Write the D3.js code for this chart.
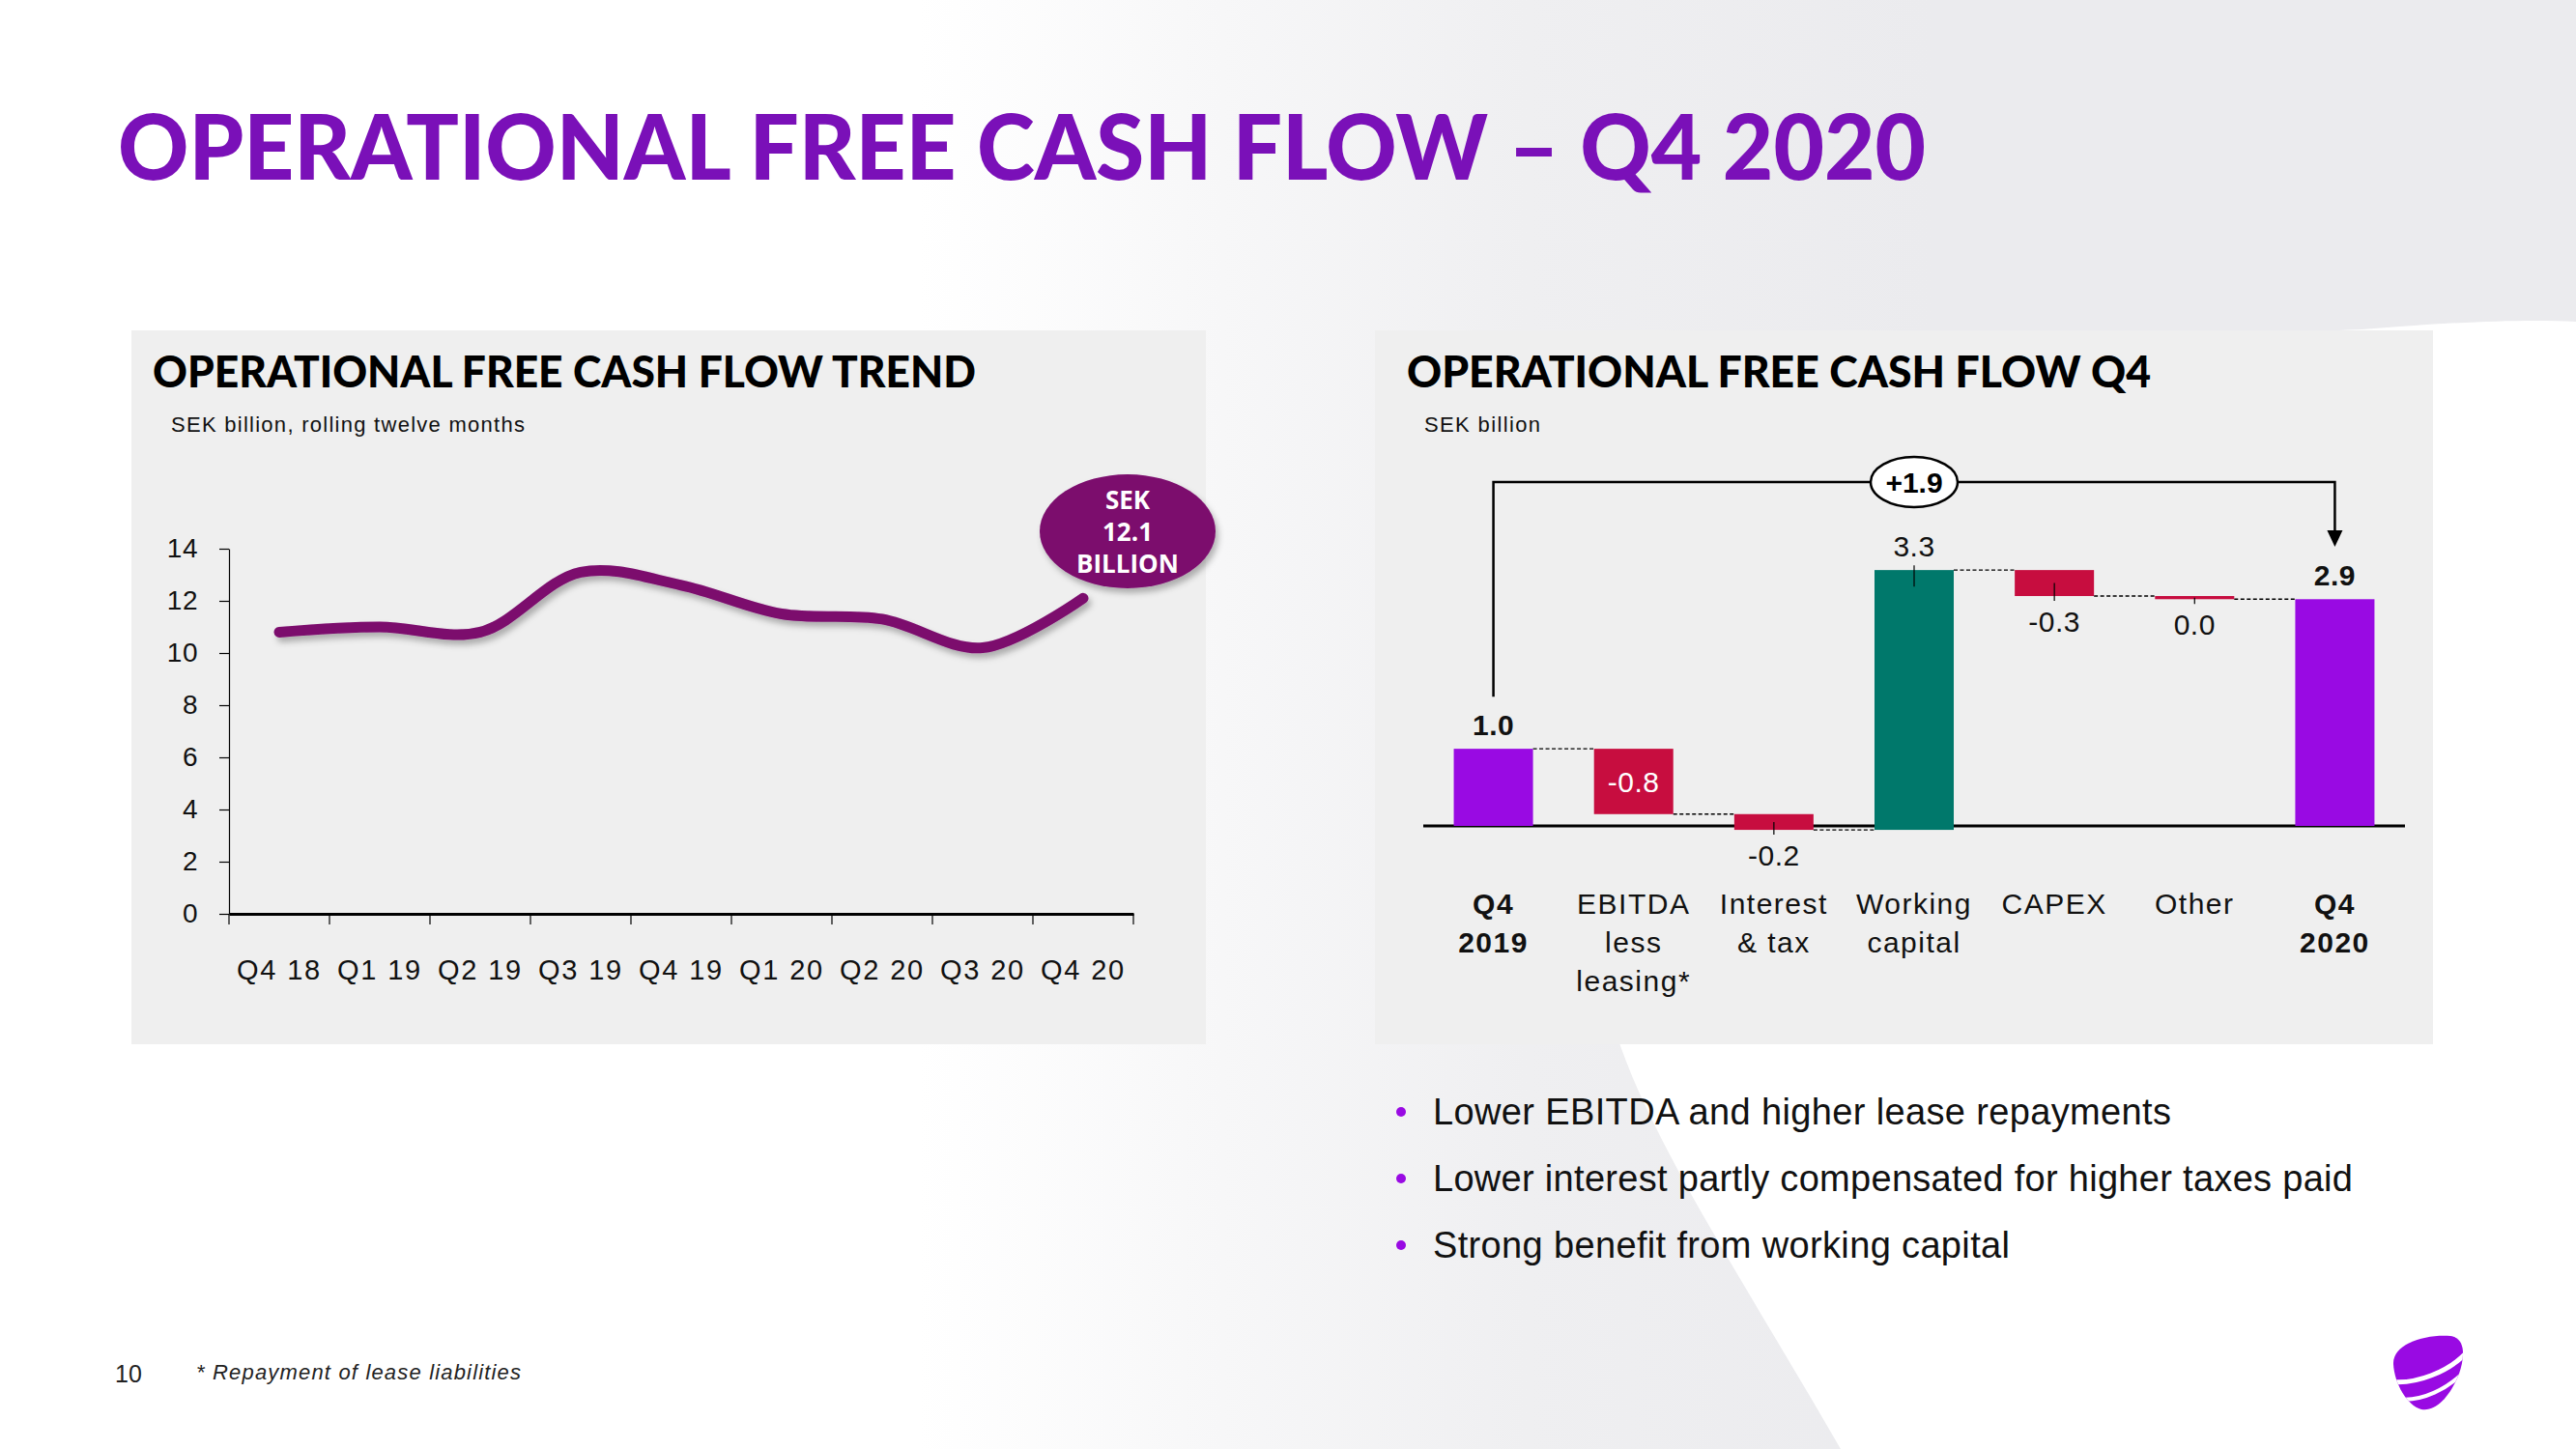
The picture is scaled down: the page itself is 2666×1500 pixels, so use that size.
<!DOCTYPE html>
<html>
<head>
<meta charset="utf-8">
<script src="https://cdn.jsdelivr.net/npm/d3@7"></script>
<style>
  html, body { margin: 0; padding: 0; background: #ffffff; overflow: hidden; }
  svg { display: block; }
  .body { font-family: "Liberation Sans", Arial, sans-serif; }
  .head { font-family: Lato, "Open Sans", Roboto, sans-serif; font-weight: 900; }
</style>
</head>
<body>
<svg id="slide" width="2666" height="1500"></svg>
<script>
// ---------------- DATA ----------------
const trendCategories = ["Q4 18", "Q1 19", "Q2 19", "Q3 19", "Q4 19", "Q1 20", "Q2 20", "Q3 20", "Q4 20"];
const trendValues = [10.8, 11.0, 10.8, 13.1, 12.6, 11.5, 11.3, 10.2, 12.1];
const trendYTicks = [0, 2, 4, 6, 8, 10, 12, 14];
const trendCallout = ["SEK", "12.1", "BILLION"];

const wfCategories = [["Q4", "2019"], ["EBITDA", "less", "leasing*"], ["Interest", "& tax"], ["Working", "capital"], ["CAPEX"], ["Other"], ["Q4", "2020"]];
const wfTypes = ["total", "delta", "delta", "delta", "delta", "delta", "total"];
const wfValues = [0.98, -0.83, -0.20, 3.30, -0.33, -0.04, null]; // last total = running sum
const wfChangeLabel = "+1.9";

const bullets = [
  "Lower EBITDA and higher lease repayments",
  "Lower interest partly compensated for higher taxes paid",
  "Strong benefit from working capital"
];
const slideTitle = "OPERATIONAL FREE CASH FLOW \u2013 Q4 2020";
const leftTitle = "OPERATIONAL FREE CASH FLOW TREND";
const leftSubtitle = "SEK billion, rolling twelve months";
const rightTitle = "OPERATIONAL FREE CASH FLOW Q4";
const rightSubtitle = "SEK billion";
const footnote = "* Repayment of lease liabilities";
const pageNumber = "10";

// ---------------- STYLE ----------------
const C = {
  title: "#7a10b8",
  panel: "#efefef",
  line: "#7b0a6d",
  total: "#990ae3",
  neg: "#c70d3f",
  pos: "#00786b",
  text: "#000000",
  bullet: "#990ae3"
};

const svg = d3.select("#slide");
const defs = svg.append("defs");

// background gradient
const grad = defs.append("linearGradient").attr("id", "bgGrad")
  .attr("gradientUnits", "userSpaceOnUse").attr("x1", 950).attr("y1", 0).attr("x2", 2000).attr("y2", 0);
grad.append("stop").attr("offset", 0).attr("stop-color", "#ffffff");
grad.append("stop").attr("offset", 0.6).attr("stop-color", "#efeff1");
grad.append("stop").attr("offset", 1).attr("stop-color", "#ebebee");

const shadow = defs.append("filter").attr("id", "shadow").attr("x", "-20%").attr("y", "-40%").attr("width", "140%").attr("height", "180%");
shadow.append("feDropShadow").attr("dx", 3).attr("dy", 5).attr("stdDeviation", 3)
  .attr("flood-color", "#000").attr("flood-opacity", 0.28);

svg.append("rect").attr("width", 2666).attr("height", 1500).attr("fill", "#ffffff");
svg.append("rect").attr("width", 2666).attr("height", 1500).attr("fill", "url(#bgGrad)");
// white swoosh on the lower right
svg.append("path")
  .attr("d", "M1905,1500 C1790,1300 1660,1110 1660,1000 L1700,600 C1900,380 2300,346 2445,341 C2530,334 2610,330 2666,333 L2666,1500 Z")
  .attr("fill", "#ffffff");

// ---------------- TITLE ----------------
svg.append("text").attr("class", "head")
  .attr("x", 122).attr("y", 186)
  .attr("font-size", 94).attr("fill", C.title)
  .attr("textLength", 1871).attr("lengthAdjust", "spacingAndGlyphs")
  .text(slideTitle);

// ---------------- PANELS ----------------
svg.append("rect").attr("x", 136).attr("y", 342).attr("width", 1112).attr("height", 739).attr("fill", C.panel);
svg.append("rect").attr("x", 1423).attr("y", 342).attr("width", 1095).attr("height", 739).attr("fill", C.panel);

svg.append("text").attr("class", "head").attr("x", 158).attr("y", 401)
  .attr("font-size", 46).attr("fill", C.text)
  .attr("textLength", 852).attr("lengthAdjust", "spacingAndGlyphs").text(leftTitle);
svg.append("text").attr("class", "head").attr("x", 1456).attr("y", 401)
  .attr("font-size", 46).attr("fill", C.text)
  .attr("textLength", 770).attr("lengthAdjust", "spacingAndGlyphs").text(rightTitle);

svg.append("text").attr("class", "body").attr("x", 177).attr("y", 447)
  .attr("font-size", 22).attr("fill", "#111")
  .attr("textLength", 366).attr("lengthAdjust", "spacing").text(leftSubtitle);
svg.append("text").attr("class", "body").attr("x", 1474).attr("y", 447)
  .attr("font-size", 22).attr("fill", "#111")
  .attr("textLength", 120).attr("lengthAdjust", "spacing").text(rightSubtitle);

// ---------------- LEFT: TREND LINE ----------------
const xL = d3.scaleBand().domain(trendCategories).range([237, 1173]);
const yL = d3.scaleLinear().domain([0, 14]).range([946, 568]);

const gyL = svg.append("g").attr("class", "body").attr("transform", "translate(237,0)")
  .call(d3.axisLeft(yL).tickValues(trendYTicks).tickSize(10).tickPadding(22).tickSizeOuter(0));
gyL.select(".domain").attr("stroke", "#000").attr("stroke-width", 1.2);
gyL.selectAll(".tick line").attr("stroke", "#000").attr("stroke-width", 1.2);
gyL.selectAll(".tick text").attr("font-size", 28).attr("fill", "#111")
  .attr("font-family", "Liberation Sans, Arial, sans-serif").attr("letter-spacing", 0.5);

// x axis
const gxL = svg.append("g").attr("class", "body").attr("transform", "translate(0,946)")
  .call(d3.axisBottom(xL).tickSize(0).tickPadding(68).tickSizeOuter(0));
gxL.select(".domain").attr("stroke", "#000").attr("stroke-width", 3);
gxL.selectAll(".tick text").attr("font-size", 29).attr("fill", "#111")
  .attr("font-family", "Liberation Sans, Arial, sans-serif").attr("letter-spacing", 1.8)
  .attr("dy", "0");
const boundaries = trendCategories.map(c => xL(c)).concat([xL.range()[1]]);
svg.append("g").selectAll("line").data(boundaries).join("line")
  .attr("x1", d => d).attr("x2", d => d).attr("y1", 946).attr("y2", 957)
  .attr("stroke", "#000").attr("stroke-width", 1.2);

const lineGen = d3.line()
  .x((d, i) => xL(trendCategories[i]) + xL.bandwidth() / 2)
  .y(d => yL(d))
  .curve(d3.curveCatmullRom.alpha(0.5));
svg.append("path").datum(trendValues)
  .attr("d", lineGen).attr("fill", "none")
  .attr("stroke", C.line).attr("stroke-width", 11).attr("stroke-linecap", "round")
  .attr("stroke-linejoin", "round").attr("filter", "url(#shadow)");

// callout bubble
svg.append("ellipse").attr("cx", 1167).attr("cy", 550).attr("rx", 91).attr("ry", 59)
  .attr("fill", C.line).attr("filter", "url(#shadow)");
svg.append("g").selectAll("text").data(trendCallout).join("text")
  .attr("x", 1167).attr("y", (d, i) => 527 + i * 33)
  .attr("text-anchor", "middle").attr("font-family", "'Open Sans', Lato, sans-serif")
  .attr("font-weight", 700).attr("font-size", 26).attr("fill", "#fff").text(d => d);

// ---------------- RIGHT: WATERFALL ----------------
const idx = wfCategories.map((d, i) => i);
const xR = d3.scaleBand().domain(idx).range([1473, 2489]).paddingInner(0.435).paddingOuter(0.2175);
const yR = d3.scaleLinear().domain([-1, 4]).range([936.5, 529]);

let running = 0;
const bars = wfValues.map((v, i) => {
  let start, end, value;
  if (wfTypes[i] === "total") {
    value = v === null ? running : v;
    start = 0; end = value; running = value;
  } else {
    value = v; start = running; end = running + v; running = end;
  }
  return { i, type: wfTypes[i], value, start, end };
});
const fmt = v => (Math.abs(v) < 0.05 ? "0.0" : v.toFixed(1));

// zero line
svg.append("line").attr("x1", xR.range()[0]).attr("x2", xR.range()[1])
  .attr("y1", yR(0)).attr("y2", yR(0)).attr("stroke", "#000").attr("stroke-width", 3);

// connectors
svg.append("g").selectAll("line").data(bars.slice(0, -1)).join("line")
  .attr("x1", d => xR(d.i) + xR.bandwidth())
  .attr("x2", d => xR(d.i + 1))
  .attr("y1", d => yR(d.end)).attr("y2", d => yR(d.end))
  .attr("stroke", "#000").attr("stroke-width", 1.4).attr("stroke-dasharray", "4,2.5");

// bars
svg.append("g").selectAll("rect").data(bars).join("rect")
  .attr("x", d => xR(d.i)).attr("width", xR.bandwidth())
  .attr("y", d => yR(Math.max(d.start, d.end)))
  .attr("height", d => Math.abs(yR(d.start) - yR(d.end)))
  .attr("fill", d => d.type === "total" ? C.total : (d.value < 0 ? C.neg : C.pos));

// leader ticks
const cx = i => xR(i) + xR.bandwidth() / 2;
svg.append("g").selectAll("line").data(bars.filter(d => d.type === "delta" && Math.abs(yR(d.start) - yR(d.end)) < 50)).join("line")
  .attr("x1", d => cx(d.i)).attr("x2", d => cx(d.i))
  .attr("y1", d => {
    const top = yR(Math.max(d.start, d.end)), bot = yR(Math.min(d.start, d.end));
    return d.value >= 0 ? top - 5 : (top + bot) / 2;
  })
  .attr("y2", d => {
    const top = yR(Math.max(d.start, d.end)), bot = yR(Math.min(d.start, d.end));
    return d.value >= 0 ? top + 17 : bot + 5;
  })
  .attr("stroke", "#000").attr("stroke-width", 1.2);
// leader for positive tall bar
svg.append("g").selectAll("line").data(bars.filter(d => d.type === "delta" && d.value > 0)).join("line")
  .attr("x1", d => cx(d.i)).attr("x2", d => cx(d.i))
  .attr("y1", d => yR(d.end) - 5).attr("y2", d => yR(d.end) + 17)
  .attr("stroke", "#000").attr("stroke-width", 1.2);

// value labels
svg.append("g").selectAll("text").data(bars).join("text")
  .attr("class", "body")
  .attr("x", d => cx(d.i))
  .attr("y", d => {
    const top = yR(Math.max(d.start, d.end)), bot = yR(Math.min(d.start, d.end));
    if (d.type === "total" || d.value >= 0) return top - 14;
    if (bot - top > 50) return (top + bot) / 2 + 11;
    return bot + 37;
  })
  .attr("text-anchor", "middle").attr("font-size", 30).attr("letter-spacing", 0.5)
  .attr("font-weight", d => d.type === "total" ? 700 : 400)
  .attr("fill", d => {
    const h = Math.abs(yR(d.start) - yR(d.end));
    return (d.type === "delta" && d.value < 0 && h > 50) ? "#fff" : "#111";
  })
  .text(d => fmt(d.value));

// category labels
const catG = svg.append("g").attr("class", "body");
wfCategories.forEach((lines, i) => {
  lines.forEach((t, j) => {
    catG.append("text").attr("x", cx(i)).attr("y", 946 + j * 40)
      .attr("text-anchor", "middle").attr("font-size", 30).attr("letter-spacing", 1.5)
      .attr("font-weight", wfTypes[i] === "total" ? 700 : 400).attr("fill", "#111").text(t);
  });
});

// change bracket
const bx1 = cx(0), bx2 = cx(wfCategories.length - 1), by = 499;
svg.append("path")
  .attr("d", `M${bx1},${yR(bars[0].end) - 54} L${bx1},${by} L${bx2},${by} L${bx2},551`)
  .attr("fill", "none").attr("stroke", "#000").attr("stroke-width", 2.5);
svg.append("path")
  .attr("d", `M${bx2 - 8},549 L${bx2 + 8},549 L${bx2},566 Z`).attr("fill", "#000");
svg.append("ellipse").attr("cx", (bx1 + bx2) / 2).attr("cy", by).attr("rx", 45).attr("ry", 26)
  .attr("fill", "#fff").attr("stroke", "#000").attr("stroke-width", 2.5);
svg.append("text").attr("class", "body").attr("x", (bx1 + bx2) / 2).attr("y", 510)
  .attr("text-anchor", "middle").attr("font-size", 30).attr("font-weight", 700).text(wfChangeLabel);

// ---------------- BULLETS ----------------
const bulletLens = [764, 952, 597];
const bg = svg.append("g").attr("class", "body");
bullets.forEach((t, i) => {
  const y = 1164 + i * 69;
  bg.append("circle").attr("cx", 1450).attr("cy", y - 13).attr("r", 5).attr("fill", C.bullet);
  bg.append("text").attr("x", 1483).attr("y", y).attr("font-size", 38).attr("fill", "#111")
    .attr("textLength", bulletLens[i]).attr("lengthAdjust", "spacing").text(t);
});

// ---------------- FOOTER ----------------
svg.append("text").attr("class", "body").attr("x", 119).attr("y", 1431)
  .attr("font-size", 25).attr("fill", "#222").text(pageNumber);
svg.append("text").attr("class", "body").attr("x", 203).attr("y", 1428)
  .attr("font-size", 22).attr("font-style", "italic").attr("fill", "#222")
  .attr("textLength", 336).attr("lengthAdjust", "spacing").text(footnote);

// logo
const logo = svg.append("g");
defs.append("clipPath").attr("id", "logoClip").append("path")
  .attr("d", "M2477,1412 C2476,1392 2508,1381 2536,1383 C2552,1385 2551,1405 2545,1422 C2537,1443 2522,1462 2506,1459 C2491,1455 2478,1432 2477,1412 Z");
logo.append("path")
  .attr("d", "M2477,1412 C2476,1392 2508,1381 2536,1383 C2552,1385 2551,1405 2545,1422 C2537,1443 2522,1462 2506,1459 C2491,1455 2478,1432 2477,1412 Z")
  .attr("fill", "#990ae3");
logo.append("path").attr("clip-path", "url(#logoClip)")
  .attr("d", "M2472,1430 C2500,1434 2535,1420 2555,1398")
  .attr("fill", "none").attr("stroke", "#fff").attr("stroke-width", 5);
logo.append("path").attr("clip-path", "url(#logoClip)")
  .attr("d", "M2480,1448 C2505,1452 2535,1438 2555,1415")
  .attr("fill", "none").attr("stroke", "#fff").attr("stroke-width", 4);
</script>
</body>
</html>
